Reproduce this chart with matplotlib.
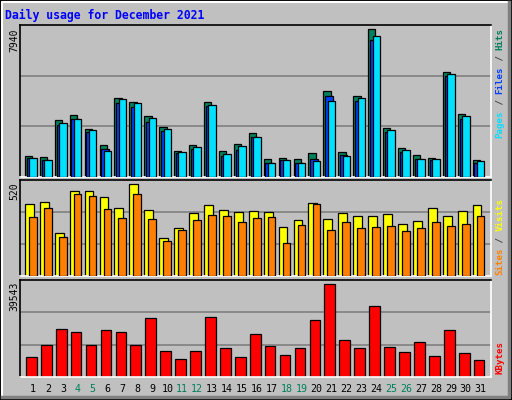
import matplotlib
matplotlib.use("Agg")
import matplotlib.pyplot as plt
from matplotlib.patches import Rectangle
import numpy as np

days = list(range(1, 32))
weekends = [4, 5, 11, 12, 18, 19, 25, 26]
hits = [1150,1096,3089,3359,2604,1742,4275,4059,3305,2712,1419,1742,4059,1419,1796,2389,988,1042,988,1311,4652,1365,4382,7940,2658,1580,1203,1042,5675,3412,934]
files = [1042,934,2820,3143,2443,1527,4005,3790,2981,2496,1311,1527,3843,1150,1473,2173,772,934,772,988,4382,1203,4113,7364,2443,1365,988,934,5460,3143,772]
pages = [1042,934,2927,3143,2550,1419,4221,4005,3197,2604,1365,1634,3897,1257,1688,2173,772,934,772,880,4113,1150,4275,7561,2550,1473,988,988,5568,3305,880]
visits = [407,418,243,480,480,447,384,520,373,215,271,356,401,373,362,367,362,277,317,413,322,356,339,339,350,294,311,384,339,367,401]
sites = [333,384,220,463,452,379,328,463,322,198,260,317,345,339,305,328,333,187,288,407,260,305,271,277,283,254,271,305,283,294,339]
kbytes = [8690,13470,20420,19110,13470,19985,19110,13470,25200,11295,7820,11295,25630,12165,8690,18245,13030,9555,12165,24330,39543,15640,12165,30410,12600,10860,14770,9120,19985,10425,7385]

BG = "#C0C0C0"
W, H = 512, 400
fig = plt.figure(figsize=(W/100, H/100), dpi=100, facecolor=BG)
mono = "DejaVu Sans Mono"

fig.add_artist(Rectangle((0, 0), 1, 1, transform=fig.transFigure, fill=False, ec="black", lw=1.5))
fig.add_artist(plt.Line2D([2/W, 2/W, 1-3/W], [3/H, 1-2/H, 1-2/H], transform=fig.transFigure, color="white", lw=1.5))
fig.add_artist(plt.Line2D([2/W, 1-3/W, 1-3/W], [3/H, 3/H, 1-2/H], transform=fig.transFigure, color="#808080", lw=2.5))

x = np.array(days)
xl = (0.13, 31.67)

def mkax(top, bot, ymax):
    ax = fig.add_axes([20/W, 1-bot/H, 470.7/W, (bot-top)/H])
    ax.set_facecolor(BG)
    ax.set_xlim(*xl)
    ax.set_ylim(0, ymax)
    for g in (ymax/3, 2*ymax/3):
        ax.axhline(g, color="#808080", lw=1.2, zorder=0)
    ax.set_xticks([]); ax.set_yticks([])
    ax.spines["top"].set_color("black"); ax.spines["left"].set_color("black")
    ax.spines["bottom"].set_color("white"); ax.spines["right"].set_color("white")
    for s in ax.spines.values(): s.set_linewidth(1.2)
    return ax

bk = dict(edgecolor="black", linewidth=0.9, align="edge")
ax1 = mkax(25, 177, max(hits)*1.03)
ax1.bar(x-0.54, hits, 0.49, color="#00805C", zorder=2, **bk)
ax1.bar(x-0.42, files, 0.49, color="#0040FF", zorder=3, **bk)
ax1.bar(x-0.25, pages, 0.50, color="#00E0FF", zorder=4, **bk)

ax2 = mkax(180, 276.3, max(visits)*1.046)
ax2.bar(x-0.54, visits, 0.59, color="#FFFF00", zorder=2, **bk)
ax2.bar(x-0.27, sites, 0.52, color="#FF8000", zorder=3, **bk)

ax3 = mkax(280, 377, max(kbytes)*1.046)
ax3.bar(x-0.47, kbytes, 0.72, color="#FF0000", zorder=2, **bk)

def fx(px): return px/W
def fy(py): return 1-py/H

fig.text(fx(5), fy(15), "Daily usage for December 2021", color="#0000FF", family=mono,
         fontsize=8.3, fontweight="bold", va="center", ha="left")

for lbl, top in ((str(max(hits)), 28), (str(max(visits)), 182), (str(max(kbytes)), 282)):
    fig.text(fx(14), fy(top), lbl, rotation=90, family=mono, fontsize=7, va="top", ha="center")

cw = 5.5
fsz = cw/0.602*0.72
def side(pieces, top):
    idx = 0
    for txt, col in pieces:
        if txt.strip():
            fig.text(fx(500), fy(top+idx*cw), txt, rotation=90, color=col, family=mono,
                     fontsize=fsz, fontweight="bold", va="top", ha="center")
        idx += len(txt)

side([("Hits", "#00805C"), (" / ", "#404040"), ("Files", "#0040FF"), (" / ", "#404040"), ("Pages", "#00E0FF")], 28)
side([("Visits", "#FFFF00"), (" / ", "#404040"), ("Sites", "#FF8000")], 198)
side([("KBytes", "#FF0000")], 341)

for d in days:
    px = 20 + (d - xl[0]) / (xl[1]-xl[0]) * 470.7
    fig.text(fx(px), fy(389), str(d), family=mono, fontsize=7.2, ha="center", va="center",
             color="#00805C" if d in weekends else "black")

fig.savefig("out.png", dpi=100, facecolor=BG)
